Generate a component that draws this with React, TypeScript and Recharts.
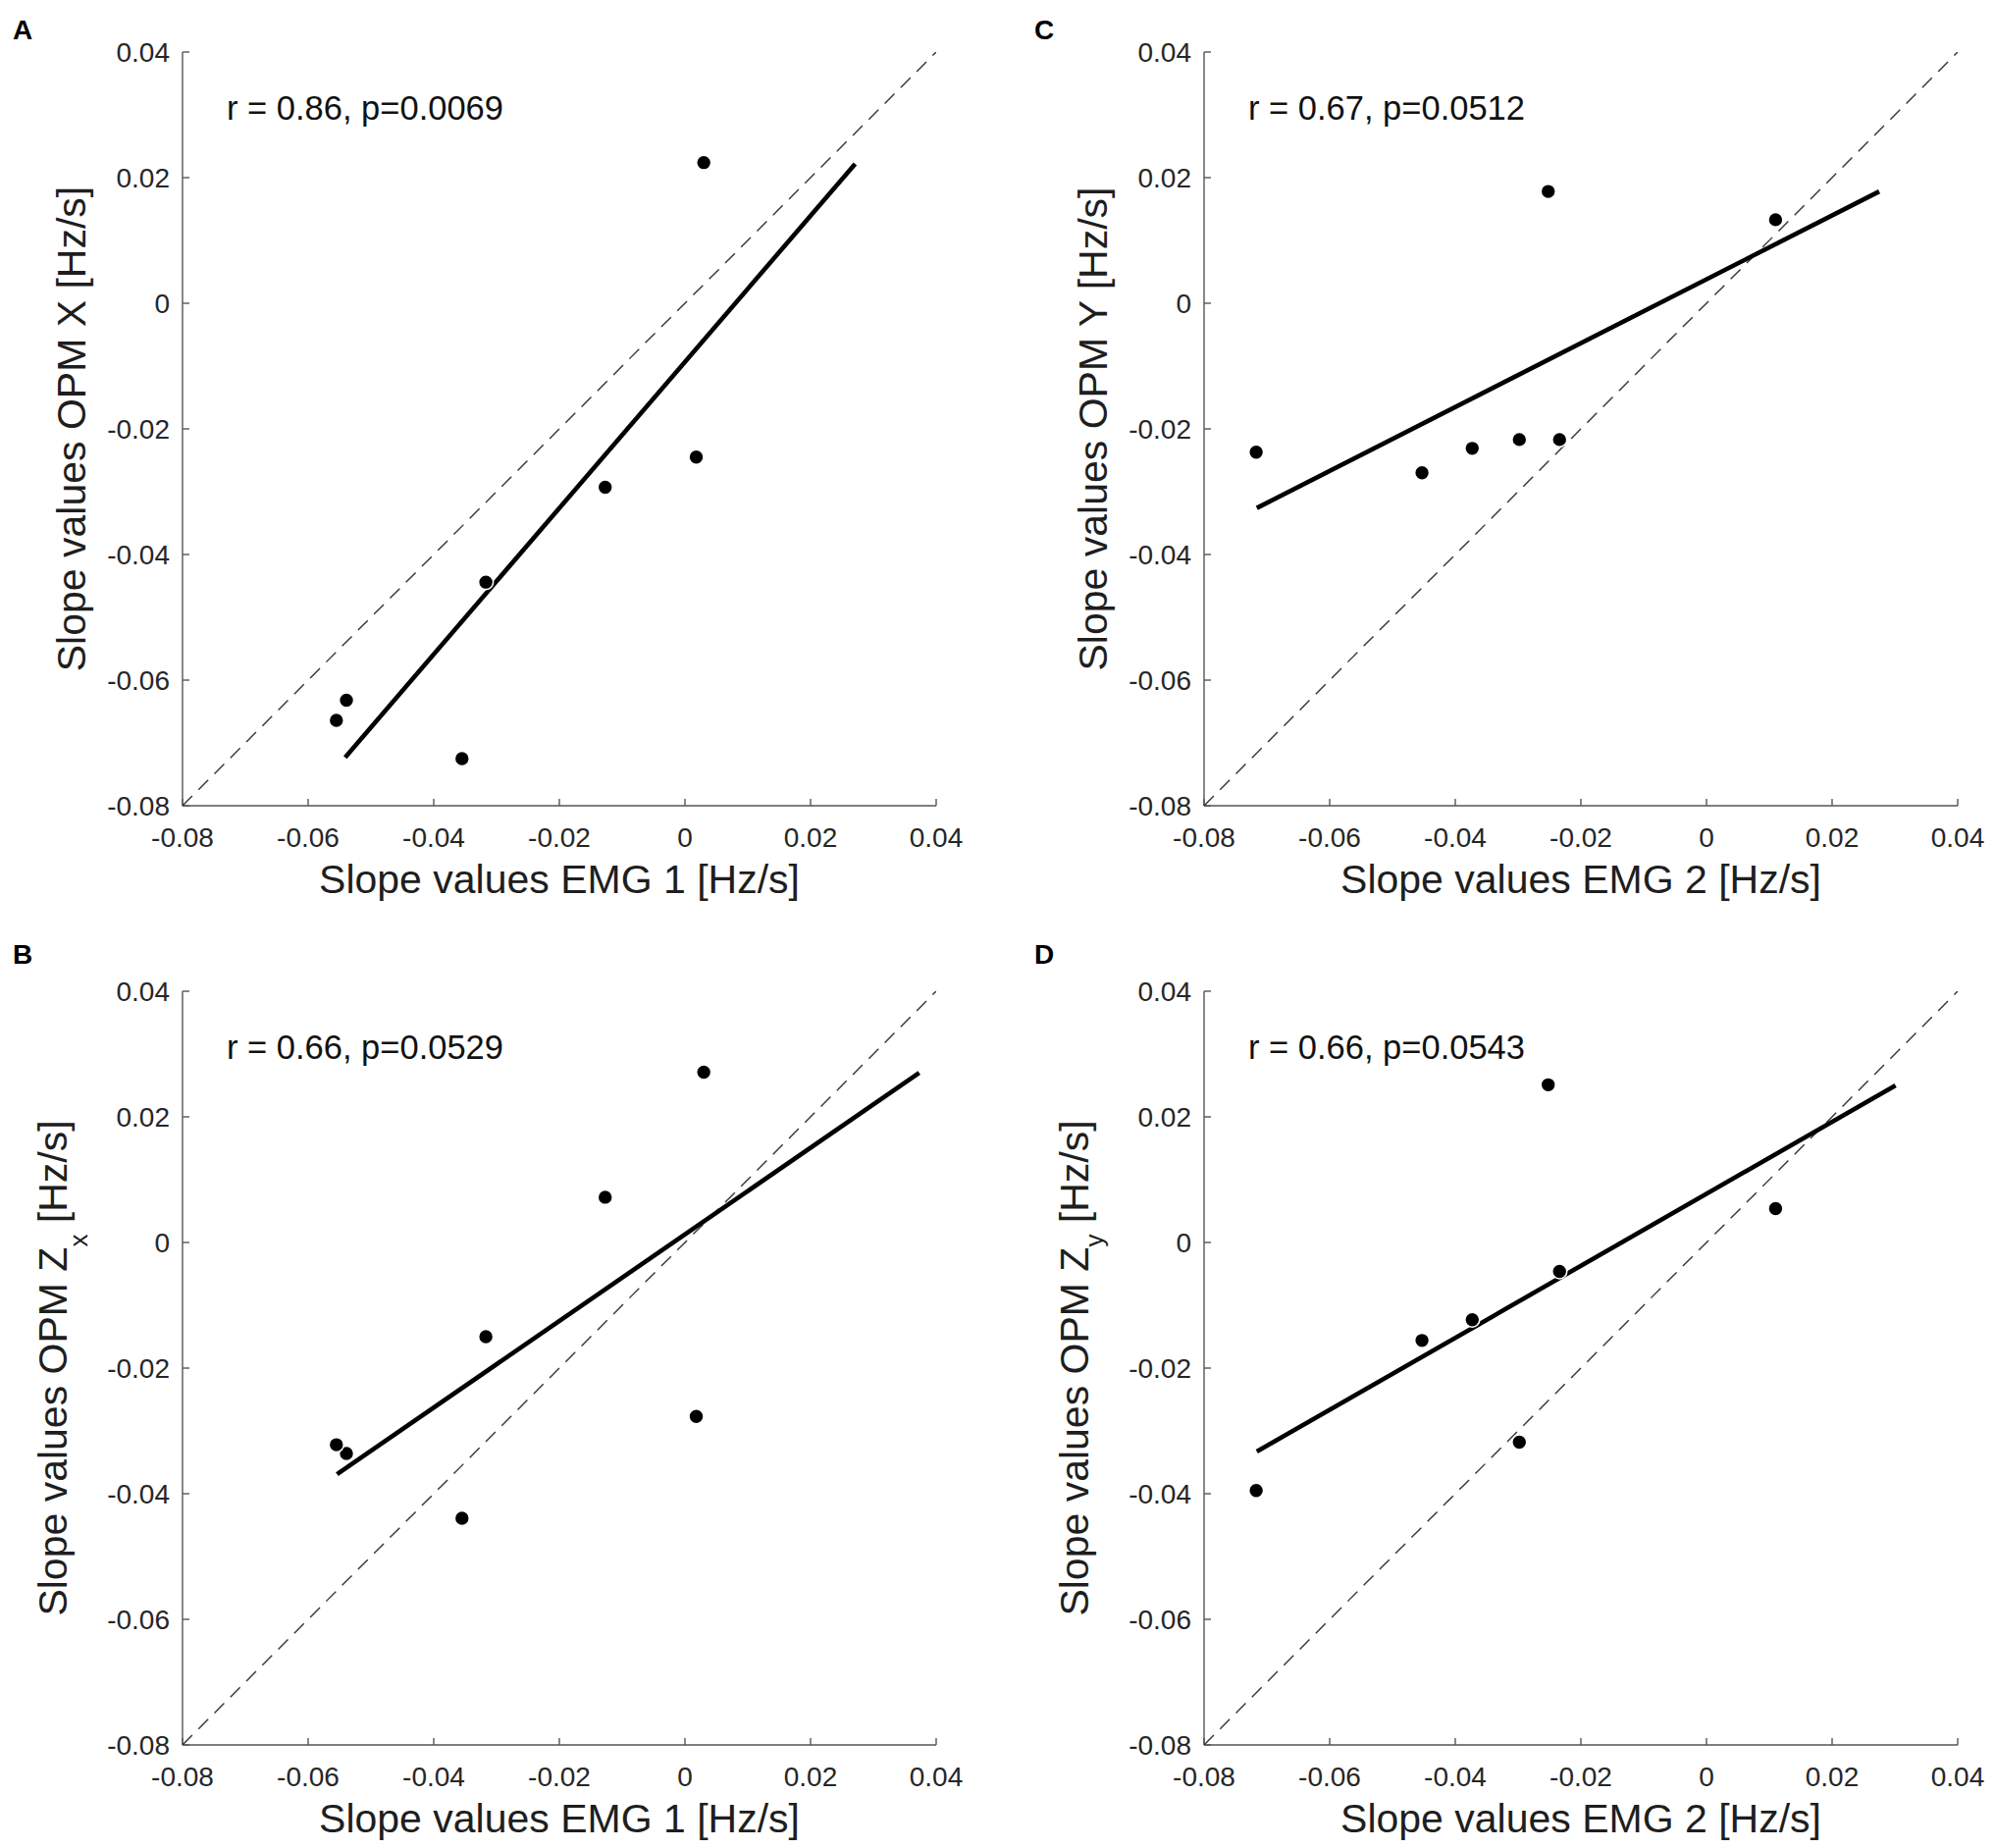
import type { ReactNode } from 'react'
import { ScatterChart, Scatter, XAxis, YAxis, Label } from 'recharts'

// shared tick values and their printed labels (both axes use the same set)
const axisTicks = [-0.08, -0.06, -0.04, -0.02, 0, 0.02, 0.04]
const tickLabels = ['-0.08', '-0.06', '-0.04', '-0.02', '0', '0.02', '0.04']

// EMG 1 slopes (panels A and B)
const emg1 = [0.0030, 0.0018, -0.0127, -0.0317, -0.0539, -0.0555, -0.0355]
const opmX = [0.0224, -0.0245, -0.0293, -0.0444, -0.0632, -0.0664, -0.0725]
const opmZx = [0.0271, -0.0277, 0.0072, -0.0150, -0.0336, -0.0322, -0.0439]

// EMG 2 slopes (panels C and D)
const emg2 = [-0.0717, -0.0453, -0.0373, -0.0298, -0.0234, -0.0252, 0.0110]
const opmY = [-0.0237, -0.0270, -0.0231, -0.0217, -0.0217, 0.0178, 0.0133]
const opmZy = [-0.0395, -0.0156, -0.0123, -0.0318, -0.0046, 0.0251, 0.0054]

// regression line end points
const fitAx = [-0.0541, 0.0271]
const fitAy = [-0.0723, 0.0222]
const fitBx = [-0.0554, 0.0373]
const fitBy = [-0.0369, 0.0270]
const fitCx = [-0.0716, 0.0275]
const fitCy = [-0.0326, 0.0178]
const fitDx = [-0.0716, 0.0301]
const fitDy = [-0.0333, 0.0250]

// identity (y = x) reference
const identity = [-0.08, 0.04]

const FONT = '"Liberation Sans", Arial, Helvetica, sans-serif'
const Y_AXIS_W = 186
const X_AXIS_H = 90
const PLOT = 768
const M_TOP = 60
const M_RIGHT = 30
const M_BOTTOM = 10
const CHART_W = Y_AXIS_W + PLOT + M_RIGHT
const CHART_H = M_TOP + PLOT + X_AXIS_H + M_BOTTOM

const pairs = (xs: number[], ys: number[]) => xs.map((x, i) => ({ x, y: ys[i] }))

const fmtTick = (v: number) => {
  const i = axisTicks.findIndex((t) => Math.abs(t - v) < 1e-9)
  return i >= 0 ? tickLabels[i] : String(v)
}

const NoShape = () => <g />

const PointShape = (props: any) => (
  <circle cx={props.cx} cy={props.cy} r={7.5} fill="#000" stroke="#fff" strokeWidth={1.6} />
)

interface PanelProps {
  left: number
  top: number
  letter: string
  letterY: number
  xs: number[]
  ys: number[]
  fitX: number[]
  fitY: number[]
  stat: string
  xLabel: string
  yLabel: ReactNode
  yLabelX: number
}

function Panel({ left, top, letter, letterY, xs, ys, fitX, fitY, stat, xLabel, yLabel, yLabelX }: PanelProps) {
  const cy = M_TOP + PLOT / 2
  return (
    <div style={{ position: 'absolute', left, top, width: CHART_W, height: CHART_H }}>
      <ScatterChart
        width={CHART_W}
        height={CHART_H}
        margin={{ top: M_TOP, right: M_RIGHT, bottom: M_BOTTOM, left: 0 }}
      >
        <XAxis
          type="number"
          dataKey="x"
          domain={[-0.08, 0.04]}
          ticks={axisTicks}
          interval={0}
          allowDataOverflow
          height={X_AXIS_H}
          tickFormatter={fmtTick}
          tickSize={-7}
          tickMargin={29}
          axisLine={{ stroke: '#555', strokeWidth: 1.4 }}
          tickLine={{ stroke: '#555', strokeWidth: 1.4 }}
          tick={{ fontSize: 28, fill: '#262626', fontFamily: FONT }}
        >
          <Label
            content={() => (
              <text
                x={Y_AXIS_W + PLOT / 2}
                y={M_TOP + PLOT + 89}
                textAnchor="middle"
                fontSize={41}
                fontFamily={FONT}
                fill="#1e1e1e"
              >
                {xLabel}
              </text>
            )}
          />
        </XAxis>
        <YAxis
          type="number"
          dataKey="y"
          domain={[-0.08, 0.04]}
          ticks={axisTicks}
          interval={0}
          allowDataOverflow
          width={Y_AXIS_W}
          tickFormatter={fmtTick}
          tickSize={-7}
          tickMargin={20}
          axisLine={{ stroke: '#555', strokeWidth: 1.4 }}
          tickLine={{ stroke: '#555', strokeWidth: 1.4 }}
          tick={{ fontSize: 28, fill: '#262626', fontFamily: FONT }}
        >
          <Label
            content={() => (
              <g>
                <text
                  x={yLabelX}
                  y={cy}
                  transform={`rotate(-90 ${yLabelX} ${cy})`}
                  textAnchor="middle"
                  fontSize={41}
                  fontFamily={FONT}
                  fill="#1e1e1e"
                >
                  {yLabel}
                </text>
                <text x={Y_AXIS_W + 45} y={M_TOP + 69} fontSize={34.5} fontFamily={FONT} fill="#111">
                  {stat}
                </text>
                <text x={13} y={letterY} fontSize={28} fontWeight="bold" fontFamily={FONT} fill="#000">
                  {letter}
                </text>
              </g>
            )}
          />
        </YAxis>
        <Scatter
          data={pairs(identity, identity)}
          shape={NoShape}
          line={{ stroke: '#333', strokeWidth: 1.4, strokeDasharray: '14 9' }}
          isAnimationActive={false}
        />
        <Scatter
          data={pairs(fitX, fitY)}
          shape={NoShape}
          line={{ stroke: '#000', strokeWidth: 4.6 }}
          isAnimationActive={false}
        />
        <Scatter data={pairs(xs, ys)} shape={PointShape} isAnimationActive={false} />
      </ScatterChart>
    </div>
  )
}

export default function App() {
  return (
    <div
      style={{
        position: 'absolute',
        left: 0,
        top: 0,
        width: 2033,
        height: 1883,
        overflow: 'hidden',
        background: '#fff',
      }}
    >
      <Panel
        left={0}
        top={-7}
        letter="A"
        letterY={47}
        xs={emg1}
        ys={opmX}
        fitX={fitAx}
        fitY={fitAy}
        stat="r = 0.86, p=0.0069"
        xLabel="Slope values EMG 1 [Hz/s]"
        yLabel="Slope values OPM X [Hz/s]"
        yLabelX={87}
      />
      <Panel
        left={1041}
        top={-7}
        letter="C"
        letterY={47}
        xs={emg2}
        ys={opmY}
        fitX={fitCx}
        fitY={fitCy}
        stat="r = 0.67, p=0.0512"
        xLabel="Slope values EMG 2 [Hz/s]"
        yLabel="Slope values OPM Y [Hz/s]"
        yLabelX={87}
      />
      <Panel
        left={0}
        top={950}
        letter="B"
        letterY={32}
        xs={emg1}
        ys={opmZx}
        fitX={fitBx}
        fitY={fitBy}
        stat="r = 0.66, p=0.0529"
        xLabel="Slope values EMG 1 [Hz/s]"
        yLabel={
          <>
            <tspan>Slope values OPM Z</tspan>
            <tspan dy={21} fontSize={26}>x</tspan>
            <tspan dy={-21}> [Hz/s]</tspan>
          </>
        }
        yLabelX={68}
      />
      <Panel
        left={1041}
        top={950}
        letter="D"
        letterY={32}
        xs={emg2}
        ys={opmZy}
        fitX={fitDx}
        fitY={fitDy}
        stat="r = 0.66, p=0.0543"
        xLabel="Slope values EMG 2 [Hz/s]"
        yLabel={
          <>
            <tspan>Slope values OPM Z</tspan>
            <tspan dy={15} fontSize={26}>y</tspan>
            <tspan dy={-15}> [Hz/s]</tspan>
          </>
        }
        yLabelX={68}
      />
    </div>
  )
}
